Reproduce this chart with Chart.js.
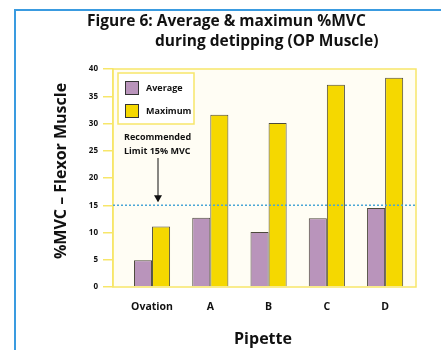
<!DOCTYPE html>
<html>
<head>
<meta charset="utf-8">
<script src="https://cdn.jsdelivr.net/npm/chart.js@4/dist/chart.umd.min.js"></script>
<style>
  html, body { margin: 0; padding: 0; background: #fff; }
  #wrap { width: 441px; height: 350px; position: relative; }
</style>
</head>
<body>
<div id="wrap"><canvas id="chart" width="441" height="350"></canvas></div>
<script>
const pipettes = ["Ovation", "A", "B", "C", "D"];
const averageMvc = [4.9, 12.7, 10.1, 12.6, 14.5];
const maximumMvc = [11.1, 31.6, 30.1, 37.1, 38.4];
const recommendedLimit = 15;
const titleLines = ["Figure 6: Average & maximun %MVC", "during detipping (OP Muscle)"];
const limitNote = ["Recommended", "Limit 15% MVC"];

const FONT = "'Open Sans', 'DejaVu Sans', sans-serif";
const YELLOW = "#f5d800";
const PURPLE = "#b994bb";
const FRAME_YELLOW = "#f7e66a";

const decorPlugin = {
  id: "decor",
  beforeDraw(chart) {
    const { ctx, chartArea: a } = chart;
    ctx.save();
    ctx.fillStyle = "#fff";
    ctx.fillRect(0, 0, chart.width, chart.height);
    // blue page frame
    ctx.strokeStyle = "#3a9be0";
    ctx.lineWidth = 2;
    ctx.beginPath();
    ctx.moveTo(15, chart.height);
    ctx.lineTo(15, 10);
    ctx.lineTo(chart.width, 10);
    ctx.stroke();
    // plot background
    ctx.fillStyle = "#fffdf4";
    ctx.fillRect(a.left, a.top, a.right - a.left, a.bottom - a.top);
    ctx.restore();
  },
  afterDatasetsDraw(chart) {
    const { ctx, chartArea: a } = chart;
    const y = chart.scales.y;
    const yLimit = y.getPixelForValue(recommendedLimit);
    ctx.save();

    // plot frame
    ctx.strokeStyle = FRAME_YELLOW;
    ctx.lineWidth = 1.5;
    ctx.strokeRect(a.left, a.top, a.right - a.left, a.bottom - a.top);

    // limit line
    ctx.strokeStyle = "#4aa6d6";
    ctx.lineWidth = 1.5;
    ctx.setLineDash([2, 2]);
    ctx.beginPath();
    ctx.moveTo(a.left, yLimit);
    ctx.lineTo(a.right, yLimit);
    ctx.stroke();
    ctx.setLineDash([]);

    // legend box
    ctx.fillStyle = "#fff";
    ctx.fillRect(118, 73, 76, 51);
    ctx.strokeStyle = FRAME_YELLOW;
    ctx.lineWidth = 1.5;
    ctx.strokeRect(118, 73, 76, 51);
    ctx.font = "bold 9px " + FONT;
    ctx.textBaseline = "middle";
    ctx.textAlign = "left";
    chart.data.datasets.forEach((ds, i) => {
      const top = 81 + i * 23;
      ctx.fillStyle = ds.backgroundColor;
      ctx.fillRect(125, top, 13, 13);
      ctx.strokeStyle = "#333";
      ctx.lineWidth = 1;
      ctx.strokeRect(125.5, top + 0.5, 13, 13);
      ctx.fillStyle = "#111";
      ctx.fillText(ds.label, 146, top + 7);
    });

    // note + arrow
    ctx.fillStyle = "#111";
    ctx.fillText(limitNote[0], 124, 137);
    ctx.fillText(limitNote[1], 124, 151);
    ctx.strokeStyle = "#111";
    ctx.lineWidth = 1;
    ctx.beginPath();
    ctx.moveTo(158, 158);
    ctx.lineTo(158, yLimit - 4);
    ctx.stroke();
    ctx.beginPath();
    ctx.moveTo(154, yLimit - 10);
    ctx.lineTo(162, yLimit - 10);
    ctx.lineTo(158, yLimit - 3);
    ctx.closePath();
    ctx.fill();

    // titles
    ctx.font = "bold 15.5px " + FONT;
    ctx.textAlign = "left";
    ctx.fillText(titleLines[0], 87, 22);
    ctx.fillText(titleLines[1], 155, 42);

    ctx.font = "bold 16px " + FONT;
    ctx.textAlign = "center";
    ctx.fillText("Pipette", 263, 339);
    ctx.translate(61, 171);
    ctx.rotate(-Math.PI / 2);
    ctx.fillText("%MVC \u2013 Flexor Muscle", 0, 0);
    ctx.restore();
  },
};

new Chart(document.getElementById("chart"), {
  type: "bar",
  data: {
    labels: pipettes,
    datasets: [
      { label: "Average", data: averageMvc, backgroundColor: PURPLE },
      { label: "Maximum", data: maximumMvc, backgroundColor: YELLOW },
    ],
  },
  options: {
    responsive: false,
    animation: false,
    layout: { padding: { left: 0, top: 69, right: 25, bottom: 0 } },
    datasets: {
      bar: {
        borderColor: "#4d4a3c",
        borderWidth: 1,
        barPercentage: 1,
        categoryPercentage: 0.62,
      },
    },
    plugins: { legend: { display: false }, tooltip: { enabled: false } },
    scales: {
      x: {
        grid: { display: false, drawTicks: false },
        border: { display: false },
        ticks: { color: "#111", font: { family: FONT, size: 10.5, weight: "bold" }, padding: 14 },
        afterFit(scale) { scale.height = 63; },
        // the original groups sit a bit tighter than even spacing; widen the index range
        afterBuildTicks(scale) { scale._startValue = -0.67; scale._valueRange = 5.2; },
      },
      y: {
        min: 0,
        max: 40,
        ticks: { stepSize: 5, color: "#111", font: { family: FONT, size: 8, weight: "bold" }, padding: 5 },
        grid: { drawOnChartArea: false, color: FRAME_YELLOW, tickLength: 10, lineWidth: 1.5 },
        border: { color: FRAME_YELLOW, width: 1.5 },
        afterFit(scale) { scale.width = 113; },
      },
    },
  },
  plugins: [decorPlugin],
});
</script>
</body>
</html>
